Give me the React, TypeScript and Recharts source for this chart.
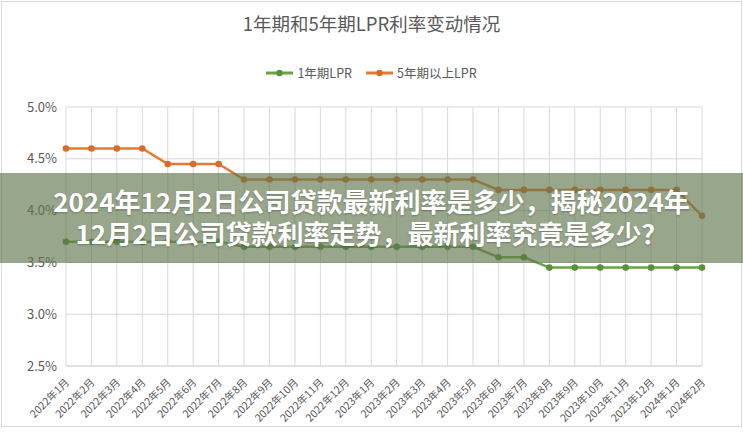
import { LineChart, Line, XAxis, YAxis, CartesianGrid } from 'recharts';

const months = [
  '2022年1月', '2022年2月', '2022年3月', '2022年4月', '2022年5月', '2022年6月',
  '2022年7月', '2022年8月', '2022年9月', '2022年10月', '2022年11月', '2022年12月',
  '2023年1月', '2023年2月', '2023年3月', '2023年4月', '2023年5月', '2023年6月',
  '2023年7月', '2023年8月', '2023年9月', '2023年10月', '2023年11月', '2023年12月',
  '2024年1月', '2024年2月',
];

const lpr1y = [
  3.7, 3.7, 3.7, 3.7, 3.7, 3.7, 3.7, 3.65, 3.65, 3.65, 3.65, 3.65, 3.65,
  3.65, 3.65, 3.65, 3.65, 3.55, 3.55, 3.45, 3.45, 3.45, 3.45, 3.45, 3.45, 3.45,
];

const lpr5y = [
  4.6, 4.6, 4.6, 4.6, 4.45, 4.45, 4.45, 4.3, 4.3, 4.3, 4.3, 4.3, 4.3,
  4.3, 4.3, 4.3, 4.3, 4.2, 4.2, 4.2, 4.2, 4.2, 4.2, 4.2, 4.2, 3.95,
];

const yTicks = [2.5, 3.0, 3.5, 4.0, 4.5, 5.0];

const title = '1年期和5年期LPR利率变动情况';
const seriesNames = ['1年期LPR', '5年期以上LPR'];
const bannerLines = [
  '2024年12月2日公司贷款最新利率是多少，揭秘2024年',
  '12月2日公司贷款利率走势，最新利率究竟是多少？',
];

const GREEN = '#6aa544';
const GREEN_DOT = '#58913a';
const ORANGE = '#e47a35';
const ORANGE_DOT = '#d96c2a';
const TEXT = '#595959';
const GRID = '#d9d9d9';
const FONT = '"Noto Sans CJK SC", "Noto Sans", sans-serif';

const data = months.map((m, i) => ({ month: m, y1: lpr1y[i], y5: lpr5y[i] }));

function MonthTick({ x, y, payload }: any) {
  return (
    <text
      x={x + 4}
      y={y + 9}
      transform={`rotate(-45, ${x + 4}, ${y + 9})`}
      textAnchor="end"
      fill={TEXT}
      fontSize={10.5}
      fontFamily={FONT}
    >
      {payload.value}
    </text>
  );
}

function LegendItem({ color, dot, label }: { color: string; dot: string; label: string }) {
  return (
    <div style={{ display: 'flex', alignItems: 'center', gap: 4 }}>
      <svg width={27} height={8}>
        <line x1={0} y1={4} x2={27} y2={4} stroke={color} strokeWidth={3} />
        <circle cx={13.5} cy={4} r={3.2} fill={dot} />
      </svg>
      <span style={{ fontSize: 12.5, color: TEXT }}>{label}</span>
    </div>
  );
}

export default function App() {
  return (
    <div
      style={{
        position: 'absolute',
        left: 0,
        top: 0,
        width: 743,
        height: 436,
        background: '#fff',
        fontFamily: FONT,
        overflow: 'hidden',
      }}
    >
      <div
        style={{
          position: 'absolute',
          left: 1,
          top: 1,
          width: 739,
          height: 424,
          border: '1px solid #d9d9d9',
        }}
      />
      <div
        style={{
          position: 'absolute',
          left: 0,
          top: 10,
          width: 743,
          textAlign: 'center',
          fontSize: 18.5,
          color: TEXT,
        }}
      >
        {title}
      </div>
      <div
        style={{
          position: 'absolute',
          left: 0,
          top: 63,
          width: 743,
          display: 'flex',
          justifyContent: 'center',
          gap: 14,
        }}
      >
        <LegendItem color={GREEN} dot={GREEN_DOT} label={seriesNames[0]} />
        <LegendItem color={ORANGE} dot={ORANGE_DOT} label={seriesNames[1]} />
      </div>
      <div style={{ position: 'absolute', left: 0, top: 0 }}>
        <LineChart
          width={743}
          height={436}
          data={data}
          margin={{ top: 107, right: 41, left: 0, bottom: 0 }}
        >
          <CartesianGrid stroke={GRID} />
          <XAxis
            dataKey="month"
            interval={0}
            height={70}
            tick={<MonthTick />}
            axisLine={{ stroke: GRID }}
            tickLine={false}
          />
          <YAxis
            width={66}
            domain={[2.5, 5.0]}
            ticks={yTicks}
            tickFormatter={(v: number) => v.toFixed(1) + '%'}
            tick={{ fill: TEXT, fontSize: 13, fontFamily: FONT }}
            axisLine={false}
            tickLine={false}
            tickMargin={3}
          />
          <Line
            dataKey="y1"
            name={seriesNames[0]}
            type="linear"
            stroke={GREEN}
            strokeWidth={2.5}
            dot={{ r: 3.3, fill: GREEN_DOT, stroke: GREEN_DOT, strokeWidth: 0 }}
            isAnimationActive={false}
          />
          <Line
            dataKey="y5"
            name={seriesNames[1]}
            type="linear"
            stroke={ORANGE}
            strokeWidth={2.5}
            dot={{ r: 3.3, fill: ORANGE_DOT, stroke: ORANGE_DOT, strokeWidth: 0 }}
            isAnimationActive={false}
          />
        </LineChart>
      </div>
      <div
        style={{
          position: 'absolute',
          left: 0,
          top: 173,
          width: 743,
          height: 90,
          background: 'rgba(97,118,78,0.65)',
          color: '#fff',
          fontWeight: 700,
          fontSize: 26,
          lineHeight: '32px',
          textAlign: 'center',
          textShadow: '0 1px 2px rgba(0,0,0,0.25)',
          paddingTop: 12,
          boxSizing: 'border-box',
          whiteSpace: 'nowrap',
        }}
      >
        {bannerLines.map((l) => (
          <div key={l}>{l}</div>
        ))}
      </div>
    </div>
  );
}
